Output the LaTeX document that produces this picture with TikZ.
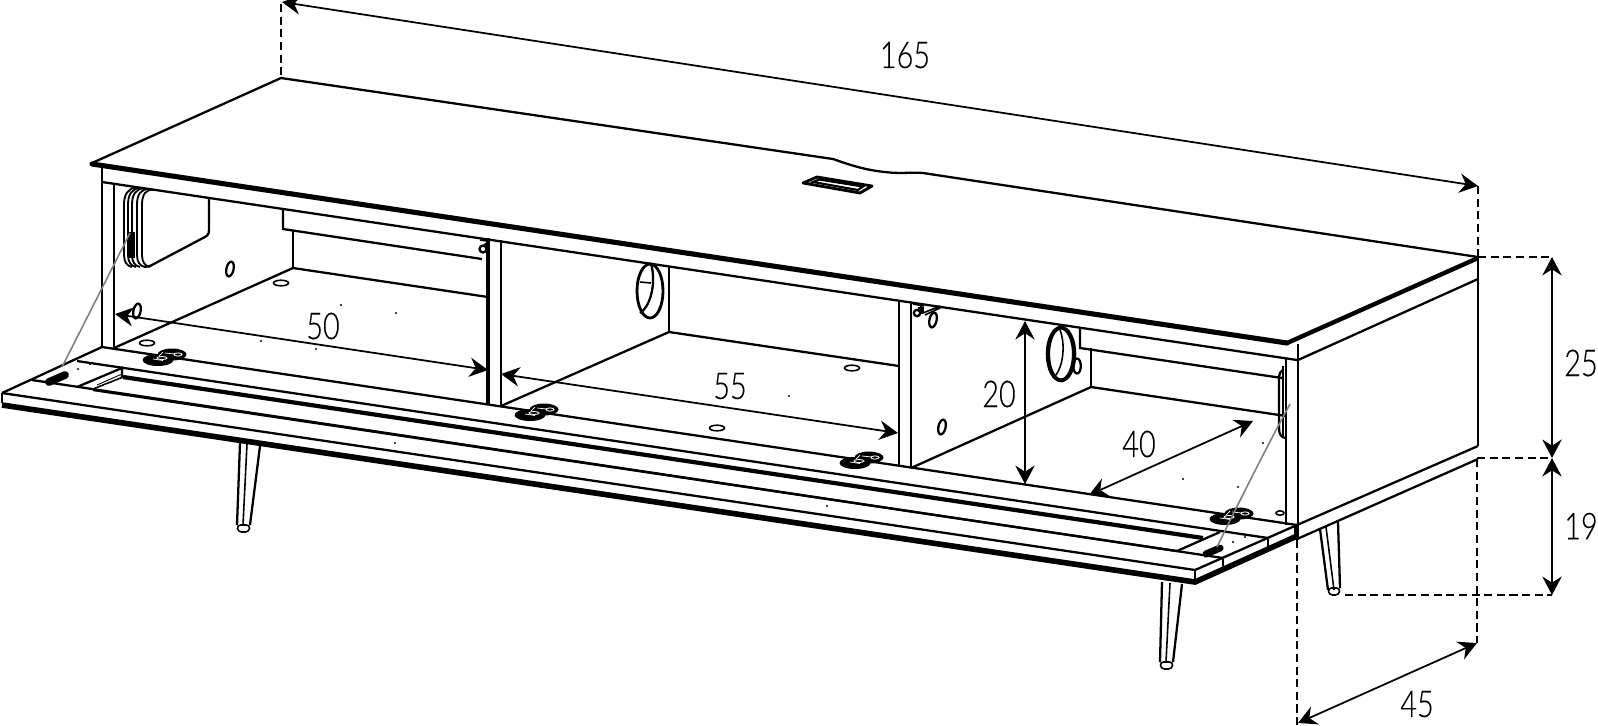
\documentclass[tikz,border=0pt]{standalone}
\usepackage{fontspec}
\setmainfont{Lato}[UprightFont=* Light,FakeStretch=0.78,FakeBold=0.2]
\usetikzlibrary{arrows.meta}
\tikzset{
  thinline/.style={line width=0.9pt},
  mainline/.style={line width=1.3pt},
  heavyline/.style={line width=2.9pt},
  leaderline/.style={line width=0.9pt,color=gray},
  dashline/.style={line width=1pt,dash pattern=on 4.6pt off 2.6pt},
  dimline/.style={line width=1pt,{Stealth[length=10.5pt,width=11pt,inset=3.5pt]}-{Stealth[length=10.5pt,width=11pt,inset=3.5pt]}},
  dimtext/.style={font=\fontsize{21}{21}\selectfont},
}
\newcommand{\hingeplate}[1]{
  \begin{scope}[shift={(#1)}]
    \fill (-7,3) ellipse [x radius=15.5,y radius=6];
    \fill (7,-2.5) ellipse [x radius=14.5,y radius=6];
    \draw[white,line width=0.4pt] (-12,2) -- (-2,3.5) (0,-4) -- (10,-3) (-6,-1) -- (-2,-5);
    \draw[white,line width=0.5pt] (13,-2.5) ellipse [x radius=4,y radius=1.6];
    \draw[white,line width=0.5pt] (-3,1) ellipse [x radius=5,y radius=1.5];
  \end{scope}
}
\newcommand{\slotoval}[1]{\draw[mainline] (#1) ellipse [x radius=3.6,y radius=7.5,rotate=-12];}
\newcommand{\flooroval}[1]{\draw[thinline] (#1) ellipse [x radius=7.5,y radius=2.8];}
\begin{document}
\begin{tikzpicture}[x=0.02cm,y=-0.02cm]
\useasboundingbox (0,0) rectangle (1598,725);
\fill[white] (0,0) rectangle (1598,725);

\coordinate (widthl) at (282,2);
\coordinate (widthr) at (1478,186);
\coordinate (heightt) at (1552,257);
\coordinate (heightm) at (1552,458);
\coordinate (heightb) at (1552,595);
\coordinate (deepf) at (1298,723);
\coordinate (deepb) at (1477,643);
\coordinate (innera) at (115,314);
\coordinate (innerb) at (488,370);
\coordinate (innerc) at (501,374);
\coordinate (innerd) at (898,433);
\coordinate (innere) at (1025,321);
\coordinate (innerf) at (1025,484);
\coordinate (innerg) at (1253,421);
\coordinate (innerh) at (1089,495);

\draw[mainline] (240,443) -- (237,525) (260,446) -- (250,525);
\draw[thinline] (247,444) -- (243,525);
\draw[thinline,rounded corners=2] (237,525) -- (238,532) -- (249,532) -- (250,525) -- cycle;
\draw[mainline] (1162,582) -- (1160,662) (1182,584) -- (1173,662);
\draw[thinline] (1170,583) -- (1166,662);
\draw[thinline,rounded corners=2] (1160,662) -- (1161,669) -- (1172,669) -- (1173,662) -- cycle;
\draw[mainline] (1320,529) -- (1328,590) (1338,522) -- (1340,588);
\draw[thinline] (1326,527) -- (1334,590);
\draw[thinline,rounded corners=2] (1328,588) -- (1329,595) -- (1339,595) -- (1340,588) -- cycle;

\draw[mainline] (92,163) -- (281,78) -- (833,159) .. controls (850,165) and (865,170) .. (885,172) .. controls (900,174) and (912,172) .. (923,173) -- (1478,257);
\draw[heavyline,line cap=round] (92,164) -- (1287,343);
\draw[line width=2.5pt] (1287,343) -- (1478,258);
\draw[line width=1.6pt,line join=round] (803,183) -- (817,177) -- (872,186) -- (860,193) -- cycle;
\draw[line width=1.2pt] (813,182) -- (819,179.5) -- (863,186.5) -- (858,190) -- cycle;

\draw[mainline] (102,166) -- (102,347);
\draw[line width=1.5pt] (114,183) -- (114,348);
\draw[mainline] (102,182) -- (1297,360);
\draw[mainline] (1298,344) -- (1298,525);
\draw[line width=1.6pt] (1286,358) -- (1286,525);
\draw[mainline] (1298,360) -- (1478,279);
\draw[mainline] (1478,257) -- (1478,446);
\draw[mainline] (1297,525) -- (1478,446);
\draw[mainline] (1297,539) -- (1478,459);

\draw[line width=1.8pt] (488,238) -- (488,405);
\draw[thinline] (501,240) -- (501,406);
\draw[mainline] (899,302) -- (899,465);
\draw[mainline] (911,303) -- (911,468);

\draw[thinline] (293,230) -- (293,268);
\draw[mainline] (114,348) -- (293,268) -- (488,297);
\draw[mainline] (283,208) -- (283,229) -- (482,259);
\draw[thinline] (669,267) -- (669,332);
\draw[mainline] (501,406) -- (669,332) -- (899,366);
\draw[thinline] (1091,348) -- (1091,387);
\draw[mainline] (911,468) -- (1091,387) -- (1286,416);
\draw[mainline] (1080,328) -- (1080,348) -- (1282,378);

\foreach \dx in {0,4,8,13,18}
  \draw[line width=1.05pt] ({136+\dx},{187+0.15*\dx}) .. controls ({128+\dx},189) and ({124+\dx},194) .. ({124+\dx},205) -- ({124+\dx},255) .. controls ({124+\dx},262) and ({127+\dx},266) .. ({132+\dx},267);
\draw[mainline] (209,198) -- (209,230) .. controls (209,235) and (207,236) .. (203,238) -- (150,266) -- (144,267);
\fill (128,232) rectangle (135,258);

\slotoval{230,269}
\slotoval{137,311}
\slotoval{942,427}
\slotoval{933,320}
\flooroval{281,283}
\flooroval{147,343}
\flooroval{852,368}
\flooroval{717,428}
\draw[mainline] (483,249) circle (3.5);
\draw[thinline] (480,240) -- (487,241) (484,245) -- (487,243);
\draw[mainline] (917,313) circle (3.2);
\draw[mainline] (921,305) -- (922,314);
\draw[thinline] (913,304) -- (924,306) (923,313) -- (940,306) (925,315) -- (942,307);
\fill (918,307) rectangle (924,312);

\draw[line width=1.6pt] (650,291) ellipse [x radius=13,y radius=27];
\draw[mainline] (651,264) .. controls (656,280) and (652,305) .. (640,313);
\draw[thinline] (640,282) -- (651,283);
\draw[line width=1.8pt] (1061,354) ellipse [x radius=12.5,y radius=26];
\draw[thinline] (1061,354) ellipse [x radius=14.5,y radius=27.5];
\draw[thinline] (1060,330) .. controls (1066,345) and (1063,370) .. (1053,378);
\draw[mainline] (1077,366) ellipse [x radius=3.8,y radius=7.5];
\draw[mainline] (1283,370) .. controls (1279,372) and (1279,376) .. (1279,382) -- (1279,428) .. controls (1279,434) and (1281,437) .. (1285,438);
\draw[thinline] (1283,366) -- (1283,438);
\draw[thinline] (1280,513) ellipse [x radius=4,y radius=2.2];

\foreach \px/\py in {341/305,396/313,261/341,316/349,789/396,1263/443,1183/479,1238/487,827/506,395/443,78/369,90/364,1233/542,1245/537}
  \fill (\px,\py) circle (1.2);

\draw[mainline] (102,347) -- (1297,525);
\draw[mainline] (2,393) -- (102,347);
\draw[mainline] (77,361) -- (1268,538);
\draw[line width=2.4pt] (123,377) -- (1203,538);
\draw[mainline] (32,380) -- (1223,558);
\draw[mainline] (93,390) -- (1177,551);
\draw[mainline] (77,387) -- (122,368) -- (122,377);
\draw[thinline] (93,389) -- (123,377);
\draw[line width=0.5pt] (97,385) -- (122,374);
\draw[mainline] (1177,551) -- (1220,532);
\draw[mainline] (2,393) -- (1195,570) -- (1297,525);
\draw[thinline] (2,393) -- (2,403);
\draw[thinline] (1195,570) -- (1195,581);
\draw[thinline] (1223,559) -- (1223,568) (1268,538) -- (1268,548);
\draw[line width=3.2pt] (2,405) -- (1195,582) -- (1297,536);
\fill (1294,525) rectangle (1299,540);

\draw[line width=4.4pt,line cap=round] (49,382) -- (65,375);
\draw[line width=4pt,line cap=round] (1206,554) -- (1220,548);
\hingeplate{165,357}
\hingeplate{537,412}
\hingeplate{862,460}
\hingeplate{1232,516}

\draw[leaderline] (130,233) -- (62,367);
\draw[leaderline] (1290,404) .. controls (1265,450) and (1240,500) .. (1217,547);

\draw[dashline] (281,4) -- (281,77);
\draw[dashline] (1478,186) -- (1478,257);
\draw[dashline] (1478,257) -- (heightt);
\draw[dashline] (1477,458) -- (heightm);
\draw[dashline] (1345,595) -- (heightb);
\draw[dashline] (1477,459) -- (deepb);
\draw[dashline] (1297,540) -- (1297,725);

\draw[dimline] (widthl) -- (widthr);
\draw[dimline] (heightt) -- (heightm);
\draw[dimline] (heightm) -- (heightb);
\draw[dimline] (deepf) -- (deepb);
\draw[dimline] (innera) -- (innerb);
\draw[dimline] (innerc) -- (innerd);
\draw[dimline] (innere) -- (innerf);
\draw[dimline] (innerg) -- (innerh);

\node[dimtext] (widthlabel) at (905,55) {165};
\node[dimtext] (toplabel) at (1581,363) {25};
\node[dimtext] (legslabel) at (1581,526) {19};
\node[dimtext] (deeplabel) at (1417,704) {45};
\node[dimtext] (leftlabel) at (323,326) {50};
\node[dimtext] (midlabel) at (730,386) {55};
\node[dimtext] (innerlabel) at (999,394) {20};
\node[dimtext] (rightlabel) at (1139,444) {40};
\end{tikzpicture}
\end{document}
